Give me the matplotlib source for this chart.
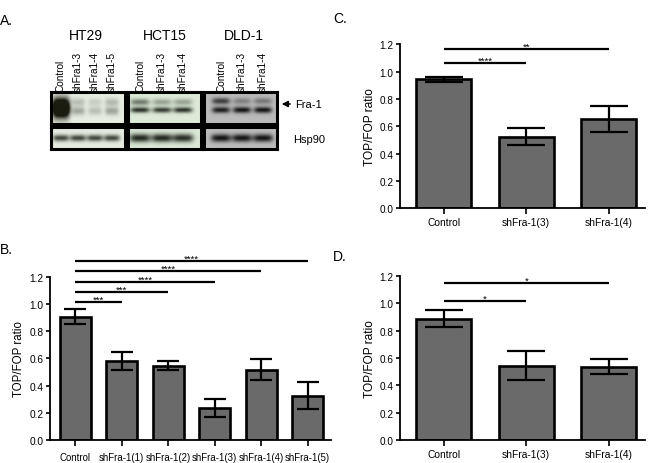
import numpy as np
import matplotlib
matplotlib.use("Agg")
import matplotlib.pyplot as plt
from matplotlib.patches import FancyArrowPatch

plt.rcParams['font.family'] = ['Liberation Sans', 'DejaVu Sans']

# ---------------- data ----------------
# Panel B
b_labels = ["Control", "shFra-1(1)", "shFra-1(2)", "shFra-1(3)", "shFra-1(4)", "shFra-1(5)"]
b_values = [0.905, 0.58, 0.545, 0.232, 0.518, 0.326]
b_errors = [0.054, 0.065, 0.034, 0.066, 0.078, 0.097]
b_sig_targets = [1, 2, 3, 4, 5]
b_sig_heights = [1.014, 1.087, 1.163, 1.242, 1.318]
b_sig_labels = ["***", "***", "****", "****", "****"]

# Panel C
c_labels = ["Control", "shFra-1(3)", "shFra-1(4)"]
c_values = [0.944, 0.524, 0.654]
c_errors = [0.018, 0.06, 0.094]
c_sig_targets = [1, 2]
c_sig_heights = [1.061, 1.166]
c_sig_labels = ["****", "**"]

# Panel D
d_labels = ["Control", "shFra-1(3)", "shFra-1(4)"]
d_values = [0.888, 0.544, 0.537]
d_errors = [0.063, 0.106, 0.057]
d_sig_targets = [1, 2]
d_sig_heights = [1.02, 1.151]
d_sig_labels = ["*", "*"]

y_ticks = [0.0, 0.2, 0.4, 0.6, 0.8, 1.0, 1.2]

# Panel A (western blots): lane labels and band intensities (darkness 0..1+)
ht29_lanes = ["Control", "shFra1-3", "shFra1-4", "shFra1-5"]
hct15_lanes = ["Control", "shFra1-3", "shFra1-4"]
dld1_lanes = ["Control", "shFra1-3", "shFra1-4"]
ht29_fra1_blob = [2.2, 0.0, 0.0, 0.0]
ht29_fra1_upper = [0.0, 0.22, 0.15, 0.25]
ht29_fra1_lower = [0.0, 0.33, 0.22, 0.35]
ht29_hsp90 = [0.85, 0.85, 0.85, 0.85]
hct15_fra1_upper = [0.55, 0.35, 0.35]
hct15_fra1_lower = [0.9, 0.85, 0.9]
hct15_hsp90 = [0.95, 0.95, 0.92]
dld1_fra1_upper = [0.75, 0.35, 0.4]
dld1_fra1_lower = [0.95, 1.0, 1.0]
dld1_hsp90 = [1.0, 1.0, 1.0]

# ---------------- figure ----------------
W, H = 650, 464
fig = plt.figure(figsize=(W / 100, H / 100), dpi=100)


def ax_px(x0, y0, x1, y1):
    return fig.add_axes([x0 / W, 1 - y1 / H, (x1 - x0) / W, (y1 - y0) / H])


BAR_COLOR = "#6a6a6a"


def bar_panel(rect, labels, values, errors, sig_t, sig_h, sig_l, xlim, capsize,
              xfs, yfs, lab_fs, xpad, width=0.67):
    ax = ax_px(*rect)
    x = np.arange(len(values))
    ax.bar(x, values, width=width, color=BAR_COLOR, edgecolor="black",
           linewidth=1.9, zorder=2)
    ax.errorbar(x, values, yerr=errors, fmt="none", ecolor="black",
                elinewidth=1.6, capsize=capsize, capthick=1.6, zorder=3)
    ax.set_xlim(*xlim)
    ax.set_ylim(0, 1.2)
    ax.set_yticks(y_ticks)
    ax.set_yticklabels([f"{t:.1f}" for t in y_ticks], fontsize=yfs)
    ax.set_xticks(x)
    ax.set_xticklabels(labels, fontsize=xfs)
    for s in ["top", "right"]:
        ax.spines[s].set_visible(False)
    for s in ["left", "bottom"]:
        ax.spines[s].set_linewidth(1.3)
    ax.tick_params(axis="y", length=3, width=1.2, pad=1.5)
    ax.tick_params(axis="x", length=4, width=1.2, pad=xpad)
    ax.set_ylabel("TOP/FOP ratio", fontsize=lab_fs, labelpad=3)
    for t, h, l in zip(sig_t, sig_h, sig_l):
        ax.plot([0, t], [h, h], color="black", lw=1.6, clip_on=False,
                solid_capstyle="butt")
        ax.annotate(l, (t / 2, h), xytext=(0, 0.2), textcoords="offset points",
                    ha="center", va="baseline", fontsize=6.8, annotation_clip=False)
    return ax


axB = bar_panel((50, 277.7, 331, 441), b_labels, b_values, b_errors,
                b_sig_targets, b_sig_heights, b_sig_labels, (-0.54, 5.5), 8,
                6.95, 7.3, 8.3, 4.8)
axC = bar_panel((400, 45.3, 645, 209.3), c_labels, c_values, c_errors,
                c_sig_targets, c_sig_heights, c_sig_labels, (-0.53, 2.44), 14,
                7.4, 7.2, 8.6, 2.5)
axD = bar_panel((400, 277, 645, 441), d_labels, d_values, d_errors,
                d_sig_targets, d_sig_heights, d_sig_labels, (-0.53, 2.44), 14,
                7.4, 7.2, 8.6, 2.5)

# panel letters
fig.text(0 / W, 1 - 21 / H, "A.", fontsize=10, va="center", ha="left")
fig.text(0 / W, 1 - 250 / H, "B.", fontsize=10, va="center", ha="left")
fig.text(333 / W, 1 - 19 / H, "C.", fontsize=10, va="center", ha="left")
fig.text(333 / W, 1 - 257 / H, "D.", fontsize=10, va="center", ha="left")


# ---------------- western blots ----------------
def blot(box, lane_x, bands, bg, dark):
    """box=(x0,y0,x1,y1) in px; bands=list of (yc, sigma_y, lane_width, intensities)."""
    x0, y0, x1, y1 = box
    ax = ax_px(x0, y0, x1, y1)
    nx, ny = int((x1 - x0) * 3), int((y1 - y0) * 3)
    xs = np.linspace(x0, x1, nx)
    ys = np.linspace(y0, y1, ny)
    X, Y = np.meshgrid(xs, ys)
    D = np.zeros_like(X)
    for yc, sy, lw_, intens in bands:
        for lx, it in zip(lane_x, intens):
            prof_x = np.exp(-((X - lx) / (lw_ / 2)) ** 4)
            prof_y = np.exp(-0.5 * ((Y - yc) / sy) ** 2)
            D += it * prof_x * prof_y
    D = np.clip(D, 0, 1)
    bgc = np.array(bg)
    dkc = np.array(dark)
    img = bgc[None, None, :] * (1 - D[..., None]) + dkc[None, None, :] * D[..., None]
    ax.imshow(img, extent=(0, 1, 0, 1), aspect="auto", interpolation="bilinear")
    ax.set_xlim(0, 1)
    ax.set_ylim(0, 1)
    ax.set_xticks([])
    ax.set_yticks([])
    for s in ax.spines.values():
        s.set_linewidth(2.2)
        s.set_color("black")
    return ax


ht29_x = [61, 78, 95, 112]
hct15_x = [140, 162, 183]
dld1_x = [221, 242, 263]

# HT29
blot((51, 93, 125, 125), ht29_x,
     [(109, 6.5, 17, ht29_fra1_blob),
      (103, 2.8, 14, ht29_fra1_upper),
      (112, 3.0, 14, ht29_fra1_lower)],
     (0.91, 0.93, 0.89), (0.10, 0.11, 0.06))
blot((51, 128, 125, 150), ht29_x, [(139, 2.3, 16, ht29_hsp90)],
     (0.90, 0.92, 0.88), (0.15, 0.17, 0.12))

# HCT15
blot((128, 93, 201, 125), hct15_x,
     [(103, 2.3, 19, hct15_fra1_upper), (111, 2.0, 19, hct15_fra1_lower)],
     (0.87, 0.92, 0.85), (0.10, 0.12, 0.08))
blot((128, 128, 201, 150), hct15_x, [(139, 3.0, 21, hct15_hsp90)],
     (0.86, 0.91, 0.84), (0.10, 0.12, 0.08))

# DLD-1
blot((204, 93, 277, 125), dld1_x,
     [(102, 2.3, 18, dld1_fra1_upper), (111, 2.2, 18, dld1_fra1_lower)],
     (0.73, 0.73, 0.73), (0.08, 0.08, 0.08))
blot((204, 128, 277, 150), dld1_x, [(139, 2.8, 20, dld1_hsp90)],
     (0.74, 0.74, 0.74), (0.08, 0.08, 0.08))

# blot titles
for name, cx in [("HT29", 86), ("HCT15", 165), ("DLD-1", 244)]:
    fig.text(cx / W, 1 - 36 / H, name, fontsize=10, ha="center", va="center")

# lane labels (rotated)
for lanes, xs in [(ht29_lanes, ht29_x), (hct15_lanes, hct15_x), (dld1_lanes, dld1_x)]:
    for lab, lx in zip(lanes, xs):
        fig.text(lx / W, 1 - 92 / H, lab, fontsize=7.2, rotation=90,
                 ha="center", va="bottom")

# Fra-1 arrow and labels
fig.add_artist(FancyArrowPatch(
    (293 / W, 1 - 105 / H), (279 / W, 1 - 105 / H), transform=fig.transFigure,
    arrowstyle="-|>,head_length=3.5,head_width=1.8", color="black", lw=1.1))
fig.text(295 / W, 1 - 105 / H, "Fra-1", fontsize=8, ha="left", va="center")
fig.text(293 / W, 1 - 140 / H, "Hsp90", fontsize=8, ha="left", va="center")

fig.savefig("out.png", dpi=100)
